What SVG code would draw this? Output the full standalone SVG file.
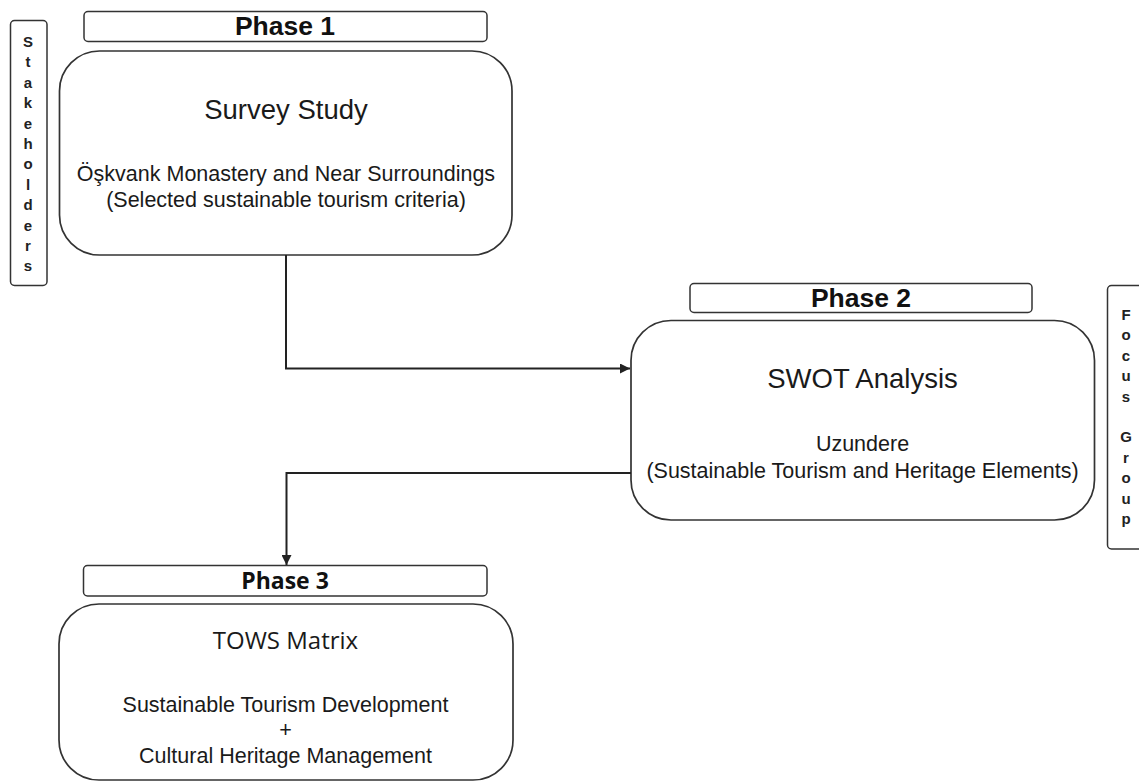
<svg xmlns="http://www.w3.org/2000/svg" width="1139" height="782" viewBox="0 0 1139 782">
<style>
.box{fill:#fff;stroke:#333;stroke-width:1.7}
.hdr{fill:#fff;stroke:#333;stroke-width:1.5}
.ph{font-family:"Liberation Sans",Arial,sans-serif;font-weight:bold;font-size:26.5px;fill:#111;text-anchor:middle}
.ph3{font-family:"Open Sans","Noto Sans",sans-serif;font-weight:bold;font-size:23px;fill:#111;text-anchor:middle}
.title{font-family:"Liberation Sans",Arial,sans-serif;font-size:27.5px;fill:#1a1a1a;text-anchor:middle}
.title3{font-family:"Open Sans","Noto Sans",sans-serif;font-size:24px;fill:#1a1a1a;text-anchor:middle}
.body{font-family:"Liberation Sans",Arial,sans-serif;font-size:21.5px;fill:#1a1a1a;text-anchor:middle}
.side{font-family:"Liberation Sans",Arial,sans-serif;font-weight:bold;font-size:15px;fill:#222;text-anchor:middle}
.conn{fill:none;stroke:#222;stroke-width:2}
</style>
<defs>
<marker id="arr" viewBox="0 0 10 10" refX="10" refY="5" markerWidth="10" markerHeight="10" markerUnits="userSpaceOnUse" orient="auto">
<path d="M0,0 L10,5 L0,10 z" fill="#222"/>
</marker>
</defs>

<g id="stakeholders">
<rect class="hdr" x="10.5" y="20.5" width="36.5" height="265" rx="4"/>
<text class="side" x="28" y="47">S</text>
<text class="side" x="28" y="67.4">t</text>
<text class="side" x="28" y="87.8">a</text>
<text class="side" x="28" y="108.2">k</text>
<text class="side" x="28" y="128.6">e</text>
<text class="side" x="28" y="149">h</text>
<text class="side" x="28" y="169.4">o</text>
<text class="side" x="28" y="189.8">l</text>
<text class="side" x="28" y="210.2">d</text>
<text class="side" x="28" y="230.6">e</text>
<text class="side" x="28" y="251">r</text>
<text class="side" x="28" y="271.4">s</text>
</g>

<g id="phase1">
<rect class="hdr" x="84" y="11.5" width="403" height="30" rx="4"/>
<text class="ph" x="285" y="35">Phase 1</text>
</g>

<g id="survey">
<rect class="box" x="59.5" y="51" width="452.5" height="204" rx="40"/>
<text class="title" x="286" y="119">Survey Study</text>
<text class="body" x="286" y="181">Öşkvank Monastery and Near Surroundings</text>
<text class="body" x="286" y="207">(Selected sustainable tourism criteria)</text>
</g>

<g id="phase2">
<rect class="hdr" x="690" y="283.5" width="342" height="29" rx="4"/>
<text class="ph" x="861" y="307">Phase 2</text>
</g>

<g id="swot">
<rect class="box" x="631" y="320.5" width="463.5" height="199.5" rx="40"/>
<text class="title" x="862.5" y="388">SWOT Analysis</text>
<text class="body" x="862.5" y="451">Uzundere</text>
<text class="body" x="862.5" y="478">(Sustainable Tourism and Heritage Elements)</text>
</g>

<g id="focusgroup">
<rect class="hdr" x="1107.5" y="285.5" width="45" height="263.5" rx="4"/>
<text class="side" x="1126" y="320">F</text>
<text class="side" x="1126" y="340.4">o</text>
<text class="side" x="1126" y="360.8">c</text>
<text class="side" x="1126" y="381.2">u</text>
<text class="side" x="1126" y="401.6">s</text>
<text class="side" x="1126" y="442.4">G</text>
<text class="side" x="1126" y="462.8">r</text>
<text class="side" x="1126" y="483.2">o</text>
<text class="side" x="1126" y="503.6">u</text>
<text class="side" x="1126" y="524">p</text>
</g>

<g id="phase3">
<rect class="hdr" x="83.5" y="565.5" width="403.5" height="30.5" rx="4"/>
<text class="ph3" x="285" y="589">Phase 3</text>
</g>

<g id="tows">
<rect class="box" x="59" y="604" width="454" height="176" rx="40"/>
<text class="title3" x="285.5" y="649">TOWS Matrix</text>
<text class="body" x="285.5" y="712">Sustainable Tourism Development</text>
<text class="body" x="285.5" y="737">+</text>
<text class="body" x="285.5" y="763">Cultural Heritage Management</text>
</g>

<g id="connectors">
<path class="conn" d="M286,255 V368.5 H630" marker-end="url(#arr)"/>
<path class="conn" d="M631,473 H286.5 V565" marker-end="url(#arr)"/>
</g>
</svg>
